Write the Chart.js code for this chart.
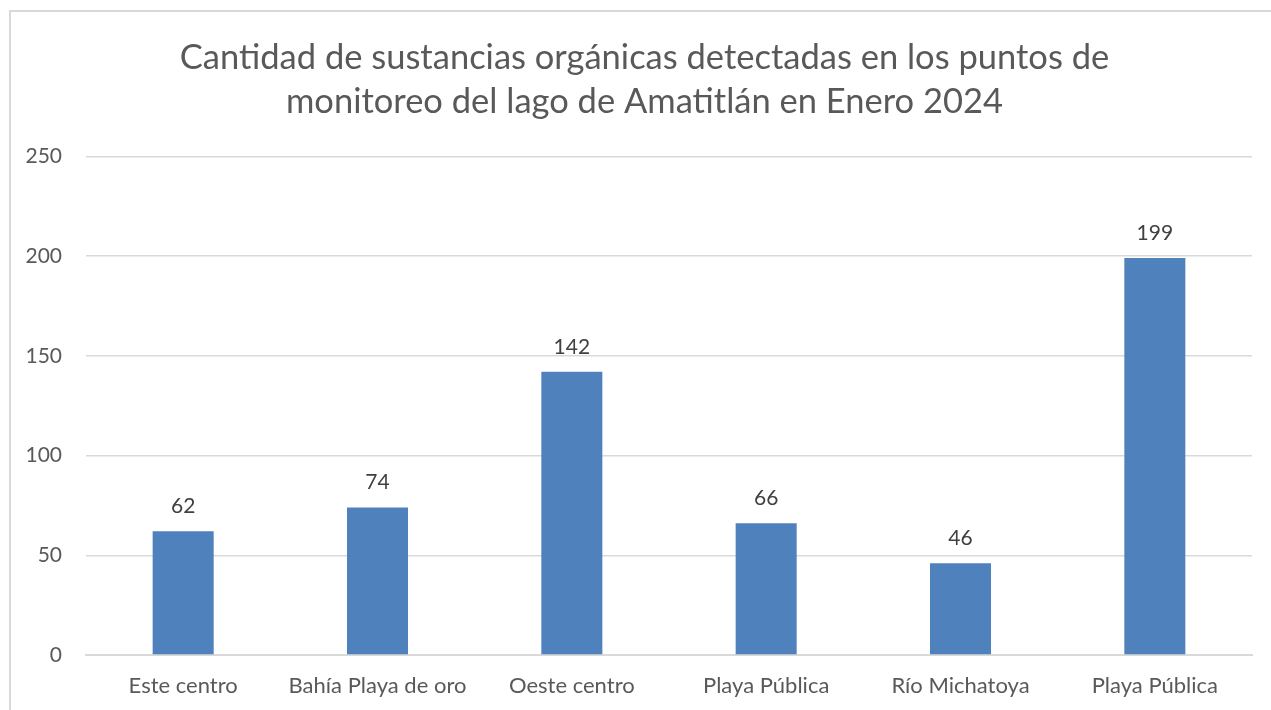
<!DOCTYPE html>
<html>
<head>
<meta charset="utf-8">
<script src="https://cdn.jsdelivr.net/npm/chart.js@4/dist/chart.umd.min.js"></script>
<style>
  html,body{margin:0;padding:0;background:#fff;overflow:hidden}
  .frame{position:absolute;left:9px;top:10px;width:1290px;height:720px;border-top:2px solid #d9d9d9;border-left:2px solid #d9d9d9;box-sizing:border-box}
  .wrap{position:absolute;left:9px;top:10px;width:1271px;height:700px}
</style>
</head>
<body>
<div class="frame"></div>
<div class="wrap"><canvas id="grafica"></canvas></div>
<script>
const puntos  = ['Este centro','Bahía Playa de oro','Oeste centro','Playa Pública','Río Michatoya','Playa Pública'];
const valores = [62, 74, 142, 66, 46, 199];
const ticksY  = [0, 50, 100, 150, 200, 250];

const fuente = 'Lato, "Open Sans", sans-serif';

// etiquetas de valor encima de cada barra
const etiquetas = {
  id:'etiquetas',
  afterDatasetsDraw(chart){
    const ctx = chart.ctx;
    const meta = chart.getDatasetMeta(0);
    ctx.save();
    ctx.font = '21px ' + fuente;
    ctx.fillStyle = '#404040';
    ctx.textAlign = 'center';
    ctx.textBaseline = 'middle';
    meta.data.forEach((bar,i)=>{
      ctx.fillText(valores[i], bar.x, bar.y - 25);
    });
    ctx.restore();
  }
};

new Chart(document.getElementById('grafica'),{
  type:'bar',
  data:{
    labels:puntos,
    datasets:[{data:valores,backgroundColor:'#4F81BD',categoryPercentage:1,barPercentage:0.314}]
  },
  options:{
    responsive:true,maintainAspectRatio:false,animation:false,
    layout:{padding:{left:8,right:8,top:26,bottom:0}},
    plugins:{
      legend:{display:false},
      tooltip:{enabled:false},
      title:{display:true,text:['Cantidad de sustancias orgánicas detectadas en los puntos de','monitoreo del lago de Amatitlán en Enero 2024'],
        color:'#595959',font:{family:fuente,size:34.5,weight:'normal',lineHeight:1.28},padding:{top:0,bottom:32}}
    },
    scales:{
      x:{
        grid:{display:false},
        border:{display:true,color:'#d9d9d9',width:2},
        afterFit(axis){ axis.height = 55; },
        ticks:{color:'#595959',font:{family:fuente,size:22},padding:10,maxRotation:0}
      },
      y:{
        min:0,max:250,
        afterBuildTicks(axis){ axis.ticks = ticksY.map(v=>({value:v})); },
        afterFit(axis){ axis.width = 69; },
        grid:{color:'#d9d9d9',lineWidth:1.5,drawTicks:false},
        border:{display:false},
        ticks:{color:'#595959',font:{family:fuente,size:21},padding:24}
      },
      margen:{
        position:'right',
        afterFit(axis){ axis.width = 20; },
        grid:{display:false},
        border:{display:false},
        ticks:{display:false}
      }
    }
  },
  plugins:[etiquetas]
});
</script>
</body>
</html>
